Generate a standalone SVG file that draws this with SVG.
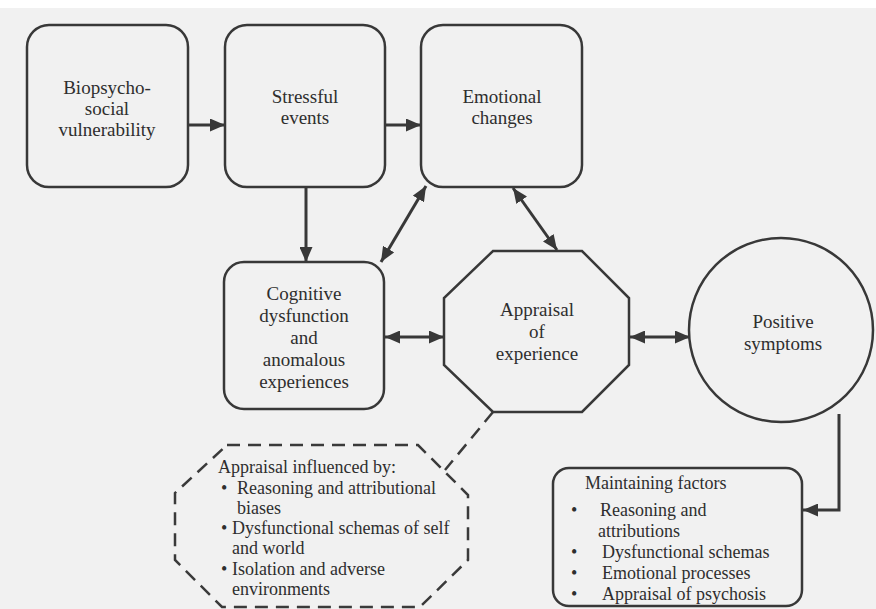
<svg xmlns="http://www.w3.org/2000/svg" width="876" height="609" viewBox="0 0 876 609">
  <defs>
    <style>
      .box { fill: none; stroke: #383838; stroke-width: 2.5; }
      .dash { fill: none; stroke: #3a3a3a; stroke-width: 2.5; stroke-dasharray: 13 8; }
      .link { fill: none; stroke: #383838; stroke-width: 3; }
      .t { font-family: "Liberation Serif", "Times New Roman", serif; font-size: 19px; fill: #2e2e2e; text-anchor: middle; }
      .l { font-family: "Liberation Serif", "Times New Roman", serif; font-size: 18px; fill: #2e2e2e; }
    </style>
    <marker id="head" markerUnits="userSpaceOnUse" markerWidth="15" markerHeight="13" refX="15" refY="6.5" orient="auto-start-reverse" viewBox="0 0 15 13">
      <path d="M0,0 L15,6.5 L0,13 z" fill="#383838"/>
    </marker>
  </defs>

  <!-- paper -->
  <rect x="0" y="0" width="876" height="609" fill="#f1f1f1"/>
  <rect x="0" y="0" width="876" height="8" fill="#ffffff"/>

  <!-- connectors -->
  <g id="connectors">
    <line class="link" x1="188" y1="125" x2="225" y2="125" marker-end="url(#head)"/>
    <line class="link" x1="385" y1="125" x2="421" y2="125" marker-end="url(#head)"/>
    <line class="link" x1="306" y1="187" x2="306" y2="262" marker-end="url(#head)"/>
    <line class="link" x1="381" y1="262" x2="426" y2="186" marker-start="url(#head)" marker-end="url(#head)"/>
    <line class="link" x1="513" y1="188" x2="557" y2="250" marker-start="url(#head)" marker-end="url(#head)"/>
    <line class="link" x1="385" y1="337" x2="444" y2="337" marker-start="url(#head)" marker-end="url(#head)"/>
    <line class="link" x1="630" y1="337" x2="690" y2="337" marker-start="url(#head)" marker-end="url(#head)"/>
    <path class="link" d="M839,414 V510 H803" marker-end="url(#head)"/>
    <line class="dash" x1="493" y1="412" x2="445" y2="470"/>
  </g>

  <g id="vulnerability">
    <rect class="box" x="27" y="25" width="161" height="162" rx="22"/>
    <text class="t" x="107" y="94">Biopsycho-</text>
    <text class="t" x="107" y="115">social</text>
    <text class="t" x="107" y="136">vulnerability</text>
  </g>

  <g id="stressful-events">
    <rect class="box" x="225" y="25" width="160" height="162" rx="22"/>
    <text class="t" x="305" y="103">Stressful</text>
    <text class="t" x="305" y="124">events</text>
  </g>

  <g id="emotional-changes">
    <rect class="box" x="421" y="25" width="161" height="162" rx="22"/>
    <text class="t" x="502" y="103">Emotional</text>
    <text class="t" x="502" y="124">changes</text>
  </g>

  <g id="cognitive-dysfunction">
    <rect class="box" x="224" y="262" width="160" height="147" rx="20"/>
    <text class="t" x="304" y="300">Cognitive</text>
    <text class="t" x="304" y="322">dysfunction</text>
    <text class="t" x="304" y="344">and</text>
    <text class="t" x="304" y="366">anomalous</text>
    <text class="t" x="304" y="388">experiences</text>
  </g>

  <g id="appraisal">
    <polygon class="box" points="493,251 582,251 629,298 629,365 582,412 493,412 444,365 444,298"/>
    <text class="t" x="537" y="316">Appraisal</text>
    <text class="t" x="537" y="338">of</text>
    <text class="t" x="537" y="360">experience</text>
  </g>

  <g id="positive-symptoms">
    <circle class="box" cx="781" cy="330" r="92"/>
    <text class="t" x="783" y="328">Positive</text>
    <text class="t" x="783" y="350">symptoms</text>
  </g>

  <g id="appraisal-influences">
    <polygon class="dash" points="227,445 418,445 468,495 468,560 420,607 222,607 175,560 175,493"/>
    <text class="l" x="218" y="473">Appraisal influenced by:</text>
    <text class="l" x="221" y="494">•</text>
    <text class="l" x="237" y="494">Reasoning and attributional</text>
    <text class="l" x="237" y="514">biases</text>
    <text class="l" x="221" y="534">•</text>
    <text class="l" x="232" y="534">Dysfunctional schemas of self</text>
    <text class="l" x="232" y="554">and world</text>
    <text class="l" x="221" y="575">•</text>
    <text class="l" x="232" y="575">Isolation and adverse</text>
    <text class="l" x="232" y="595">environments</text>
  </g>

  <g id="maintaining-factors">
    <rect class="box" x="553" y="468" width="249" height="138" rx="16"/>
    <text class="l" x="585" y="489">Maintaining factors</text>
    <text class="l" x="571" y="516">•</text>
    <text class="l" x="600" y="516">Reasoning and</text>
    <text class="l" x="598" y="537">attributions</text>
    <text class="l" x="571" y="558">•</text>
    <text class="l" x="602" y="558">Dysfunctional schemas</text>
    <text class="l" x="571" y="579">•</text>
    <text class="l" x="602" y="579">Emotional processes</text>
    <text class="l" x="571" y="600">•</text>
    <text class="l" x="602" y="600">Appraisal of psychosis</text>
  </g>
</svg>
